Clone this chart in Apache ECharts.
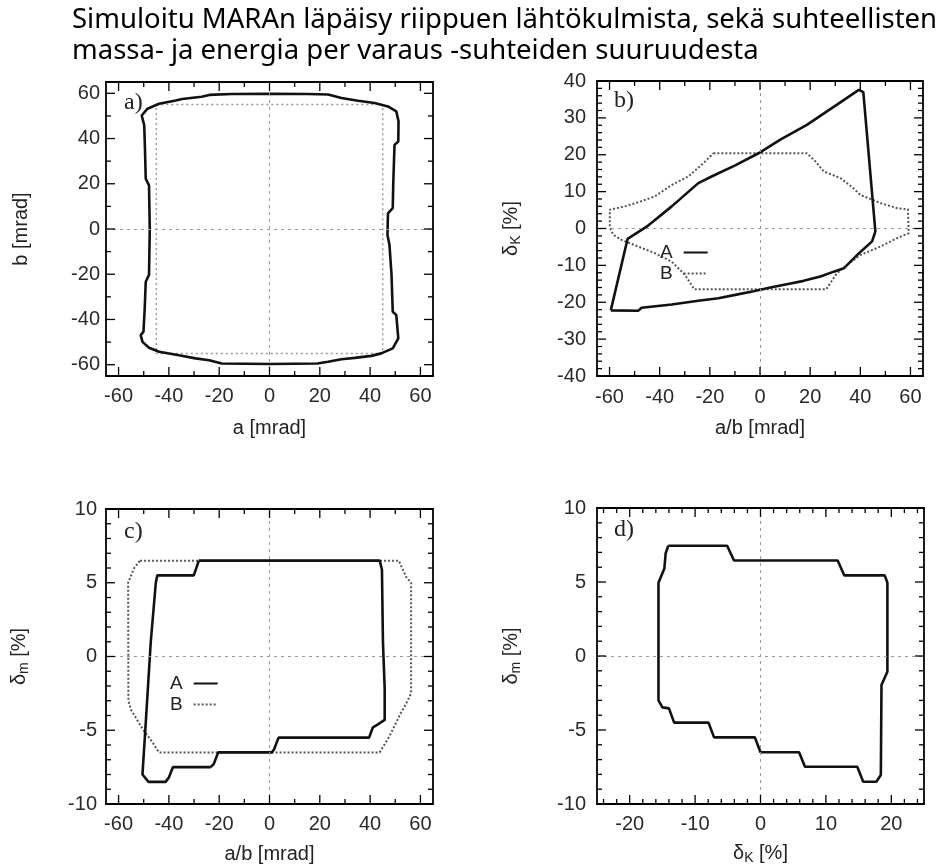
<!DOCTYPE html>
<html><head><meta charset="utf-8">
<script src="https://cdn.jsdelivr.net/npm/echarts@6/dist/echarts.min.js"></script>
<style>html,body{margin:0;padding:0;background:#fff}#c{width:940px;height:868px}</style>
</head><body><div id="c"></div>
<script>
// ---------- text ----------
const mainTitle = "Simuloitu MARAn läpäisy riippuen lähtökulmista, sekä suhteellisten\nmassa- ja energia per varaus -suhteiden suuruudesta";
const panelLabels = ["a)", "b)", "c)", "d)"];
const legendNames = ["A", "B"];

// ---------- tick values ----------
const angleMajor = [-60, -40, -20, 0, 20, 40, 60];
const angleMinor = [-50, -30, -10, 10, 30, 50];
const dKMajor = [-40, -30, -20, -10, 0, 10, 20, 30, 40];
const dKMinor = [-38,-36,-34,-32,-28,-26,-24,-22,-18,-16,-14,-12,-8,-6,-4,-2,2,4,6,8,12,14,16,18,22,24,26,28,32,34,36,38];
const dmMajor = [-10, -5, 0, 5, 10];
const dmMinor = [-9,-8,-7,-6,-4,-3,-2,-1,1,2,3,4,6,7,8,9];
const dKxMajor = [-20, -10, 0, 10, 20];
const dKxMinor = [-24,-22,-18,-16,-14,-12,-8,-6,-4,-2,2,4,6,8,12,14,16,18,22,24];

// ---------- data ----------
// a) a [mrad] vs b [mrad]
const aCurveA = [[-24,59.3],[-15,59.7],[0,59.8],[15,59.7],[23.3,59.5],[28.6,57.9],[35.2,56.7],[41.8,55.7],[47.1,54.2],[50.4,52],[51.3,47.6],[51.2,38.7],[49.7,37.2],[49.2,20],[49,9.2],[47.1,6.9],[46.9,-2.7],[47.7,-7.1],[48.5,-20],[49,-36.6],[50.4,-38],[51.2,-48.4],[49,-52.8],[44.4,-55],[40.5,-56.1],[33.9,-57],[28.6,-57.6],[23.3,-58.7],[19,-59.5],[0,-59.7],[-19,-59.5],[-24,-58],[-29.4,-57.2],[-36,-55.8],[-43.9,-54.3],[-47.9,-52.5],[-50.5,-49.9],[-51.2,-46.9],[-50.1,-45.4],[-49.6,-35],[-49.2,-23.3],[-47.9,-20.3],[-47.6,0],[-47.9,19.3],[-49.2,22.2],[-49.5,35],[-49.8,45.8],[-50.8,50.2],[-48.5,53.2],[-43.9,55.4],[-37.3,56.8],[-34.7,57.5],[-27,58.5],[-24,59.3]];
const aBoxB = [[-45,55],[45,55],[45,-55],[-45,-55],[-45,55]];
// b) a/b [mrad] vs dK [%]
const bA = [[-59.5,-22.2],[-52.8,-2.8],[-45.2,0.5],[-35.2,6.0],[-24.6,12.3],[-19.3,14.1],[-9.9,17.1],[-0.6,20.4],[8.1,24.1],[18.7,28.1],[30.7,33.6],[39.4,37.6],[41.2,37.0],[46.0,-0.8],[44.7,-3.5],[38.7,-7.2],[33.4,-10.8],[29.4,-11.7],[24.1,-13.0],[17.4,-14.2],[10.7,-15.1],[4.1,-16.0],[-2.6,-17.0],[-9.9,-18.0],[-16.6,-18.9],[-24.6,-19.6],[-35.2,-20.6],[-47.2,-21.5],[-48.6,-22.3],[-59.5,-22.2]];
const bB = [[-18.6,20.4],[18.7,20.4],[22.1,18.2],[25.4,15.5],[32,13.7],[37.3,10.9],[40,9.1],[48,6.9],[54.7,5.5],[59,5.2],[59.3,-1.3],[54.7,-2.6],[48,-4.9],[40,-7.2],[34.7,-9.9],[30.7,-12.1],[26.4,-16.5],[-26.2,-16.5],[-29.9,-12.6],[-35.2,-9],[-41.9,-6.7],[-48.6,-4.9],[-55.2,-3.1],[-58.5,-1.7],[-59.9,0.3],[-59.9,5.1],[-53.9,6],[-48.6,7.1],[-41.9,8.7],[-35.2,11.8],[-28.6,14.1],[-22.6,17.7],[-18.6,20.4]];
// c) a/b [mrad] vs dm [%]
const cA = [[-28.1,6.5],[43.8,6.5],[44.7,5.9],[45.1,1.0],[45.8,-2.2],[45.8,-4.3],[43.1,-4.6],[41.1,-4.8],[39.6,-5.5],[3.6,-5.5],[1.8,-6.3],[0.9,-6.5],[-20.4,-6.5],[-22.2,-7.3],[-23.5,-7.5],[-38.4,-7.5],[-40,-8.2],[-41.3,-8.5],[-48.1,-8.5],[-50.5,-8.0],[-49.2,-4.5],[-47.2,1.0],[-45.2,5.0],[-44.6,5.5],[-30.1,5.5],[-28.1,6.5]];
const cB = [[-51.5,6.5],[51.4,6.5],[54.3,5.4],[56.3,5.0],[56.3,-2.5],[54.6,-3.1],[51.7,-4.0],[47.7,-5.4],[43.8,-6.5],[-44.0,-6.5],[-46.6,-5.8],[-50.5,-4.9],[-55.1,-3.6],[-56.1,-3.0],[-56.2,5.0],[-53.8,6.0],[-51.5,6.5]];
// d) dK [%] vs dm [%]
const dA = [[-14.1,7.45],[-5.1,7.45],[-4.05,6.45],[11.8,6.45],[12.8,5.45],[19.0,5.45],[19.4,4.95],[19.4,-1.06],[18.5,-1.96],[18.4,-8.04],[17.7,-8.5],[15.7,-8.5],[14.8,-7.48],[6.8,-7.48],[5.9,-6.5],[0,-6.5],[-0.86,-5.5],[-7.1,-5.5],[-7.95,-4.5],[-13.2,-4.5],[-14.0,-3.54],[-15.0,-3.47],[-15.6,-3.0],[-15.6,4.95],[-14.7,5.92],[-14.5,6.94],[-14.1,7.45]];

// ---------- layout ----------
const grids = [
  {left:106, top:82, width:327, height:294},
  {left:597, top:81, width:326, height:295},
  {left:106, top:509, width:327, height:295},
  {left:597, top:508, width:327, height:296}
];
const ranges = [
  {x:[-65,65], y:[-65,65], xMaj:angleMajor, xMin:angleMinor, yMaj:angleMajor, yMin:angleMinor},
  {x:[-65,65], y:[-40,40], xMaj:angleMajor, xMin:angleMinor, yMaj:dKMajor, yMin:dKMinor},
  {x:[-65,65], y:[-10,10], xMaj:angleMajor, xMin:angleMinor, yMaj:dmMajor, yMin:dmMinor},
  {x:[-25,25], y:[-10,10], xMaj:dKxMajor, xMin:dKxMinor, yMaj:dmMajor, yMin:dmMinor}
];
const FONT = "'Liberation Sans', Arial, sans-serif";
const nameStyle = {fontSize:20, fontFamily:FONT, color:'#222',
  rich:{g:{fontSize:20, fontFamily:FONT, color:'#222'}, s:{fontSize:14, fontFamily:FONT, color:'#222', padding:[9,0,0,0]}}};

function mkAxes(gi, isX, name, nameGap, labelMargin) {
  const r = ranges[gi];
  const ext = isX ? r.x : r.y, major = isX ? r.xMaj : r.yMaj;
  const pos = isX ? ['bottom','top'] : ['left','right'];
  const base = {type:'value', gridIndex:gi, min:ext[0], max:ext[1], splitLine:{show:false}, axisTick:{show:false},
    axisLine:{show:true, onZero:false, lineStyle:{color:'#000', width:1.8}}};
  const main = Object.assign({}, base, {position:pos[0], name:name, nameLocation:'middle', nameGap:nameGap, nameTextStyle:nameStyle,
      axisLabel:{show:true, customValues:major, fontSize:20, fontFamily:FONT, color:'#2a2a2a', margin:labelMargin}});
  const opp = Object.assign({}, base, {position:pos[1], axisLabel:{show:false}});
  return [main, opp];
}

const xAxes = [].concat(
  mkAxes(0, true, 'a [mrad]', 42, 10),
  mkAxes(1, true, 'a/b [mrad]', 42, 11),
  mkAxes(2, true, 'a/b [mrad]', 40, 10),
  mkAxes(3, true, '{g|δ}{s|K}{g| [%]}', 38, 10)
);
const yAxes = [].concat(
  mkAxes(0, false, 'b [mrad]', 75, 6),
  mkAxes(1, false, '{g|δ}{s|K}{g| [%]}', 74, 11),
  mkAxes(2, false, '{g|δ}{s|m}{g| [%]}', 75, 9),
  mkAxes(3, false, '{g|δ}{s|m}{g| [%]}', 74, 11)
);

const solidStyle = {color:'#111', width:2.6, type:'solid'};
const dotStyle = {color:'#555', width:2, type:[2,2]};
const boxStyle = {color:'#999', width:1.5, type:[2,3]};
const zeroLine = {color:'#999', width:1, type:[3,4]};

function zeroSeries(gi) {
  return {type:'line', name:'zero'+gi, xAxisIndex:gi*2, yAxisIndex:gi*2, data:[], symbol:'none', silent:true, z:1,
    markLine:{silent:true, symbol:'none', animation:false, label:{show:false}, lineStyle:zeroLine,
      emphasis:{disabled:true}, data:[{xAxis:0},{yAxis:0}]}};
}
function curve(gi, name, data, style, z) {
  return {type:'line', name:name, xAxisIndex:gi*2, yAxisIndex:gi*2, data:data, symbol:'none', showSymbol:false,
    lineStyle:style, itemStyle:{color:style.color}, z:z, silent:true, emphasis:{disabled:true}};
}
// inward ticks on all four sides, positioned through the axes' scales
function tickSeries(gi) {
  const r = ranges[gi];
  const items = [];
  r.xMaj.forEach(v => items.push([v, 0, 9])); r.xMin.forEach(v => items.push([v, 0, 5]));
  r.yMaj.forEach(v => items.push([v, 1, 9])); r.yMin.forEach(v => items.push([v, 1, 5]));
  return {type:'custom', name:'ticks'+gi, xAxisIndex:gi*2, yAxisIndex:gi*2, silent:true, z:5, clip:false,
    encode:{x:-1, y:-1}, data:items,
    renderItem:function(params, api){
      const v = api.value(0), dir = api.value(1), len = api.value(2);
      const st = {stroke:'#000', lineWidth:1.3};
      if (dir === 0) {
        const b = api.coord([v, r.y[0]]), t = api.coord([v, r.y[1]]);
        return {type:'group', children:[
          {type:'line', shape:{x1:b[0], y1:b[1], x2:b[0], y2:b[1]-len}, style:st},
          {type:'line', shape:{x1:t[0], y1:t[1], x2:t[0], y2:t[1]+len}, style:st}]};
      } else {
        const l = api.coord([r.x[0], v]), rr = api.coord([r.x[1], v]);
        return {type:'group', children:[
          {type:'line', shape:{x1:l[0], y1:l[1], x2:l[0]+len, y2:l[1]}, style:st},
          {type:'line', shape:{x1:rr[0], y1:rr[1], x2:rr[0]-len, y2:rr[1]}, style:st}]};
      }
    }};
}

const series = [
  zeroSeries(0), curve(0, 'aB', aBoxB, boxStyle, 2), curve(0, 'aA', aCurveA, solidStyle, 3), tickSeries(0),
  zeroSeries(1), curve(1, 'B', bB, dotStyle, 2), curve(1, 'A', bA, solidStyle, 3), tickSeries(1),
  zeroSeries(2), curve(2, 'B', cB, dotStyle, 2), curve(2, 'A', cA, solidStyle, 3), tickSeries(2),
  zeroSeries(3), curve(3, 'dA', dA, solidStyle, 3), tickSeries(3)
];

const labelPos = [[124, 91], [614, 89], [124, 520], [614, 518]];
const titles = [{text:mainTitle, left:72, top:5, padding:0,
  textStyle:{fontFamily:"'Noto Sans', sans-serif", fontSize:27.5, fontWeight:'normal', color:'#000', lineHeight:31}}];
panelLabels.forEach(function(t, i){
  titles.push({text:t, left:labelPos[i][0], top:labelPos[i][1], padding:0,
    textStyle:{fontFamily:"'Liberation Serif', 'DejaVu Serif', serif", fontSize:24, fontWeight:'normal', color:'#222'}});
});

function mkLegend(left, top) {
  return {data:legendNames, left:left, top:top, orient:'vertical', align:'right', itemWidth:24, itemHeight:14, itemGap:2,
    selectedMode:false, padding:0, itemStyle:{opacity:0},
    textStyle:{fontSize:19, fontFamily:FONT, color:'#222', padding:[0,6,0,0]}};
}

const chart = echarts.init(document.getElementById('c'), null, {renderer:'canvas'});
chart.setOption({
  animation:false,
  backgroundColor:'#fff',
  title:titles,
  grid:grids,
  xAxis:xAxes,
  yAxis:yAxes,
  legend:[mkLegend(660, 243), mkLegend(170, 674)],
  series:series
});
</script></body></html>
